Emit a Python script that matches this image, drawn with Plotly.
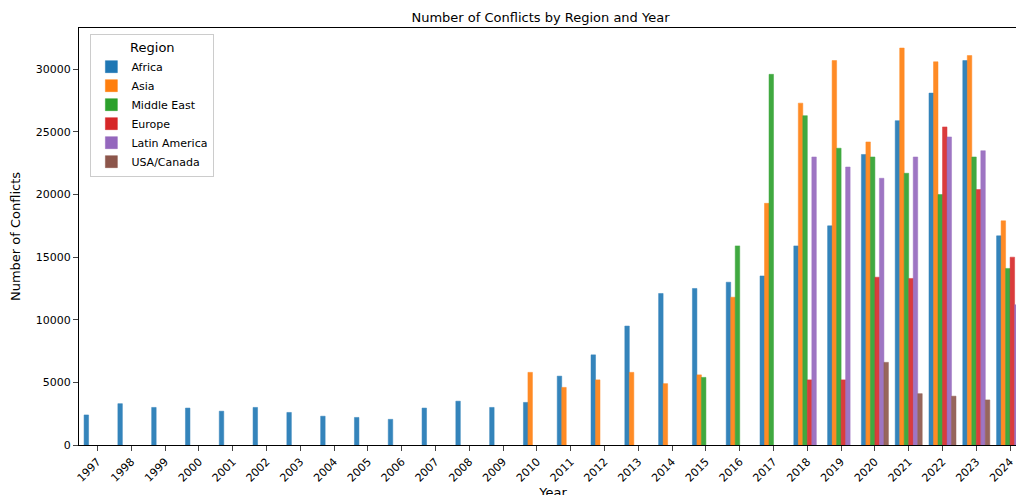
import plotly.graph_objects as go

years = [str(y) for y in range(1997, 2025)]
N = None

africa = [2400, 3300, 3000, 2950, 2700, 3000, 2600, 2300, 2200, 2050, 2950, 3500, 3000, 3400,
          5500, 7200, 9500, 12100, 12500, 13000, 13500, 15900, 17500, 23200, 25900, 28100, 30700, 16700]
asia = [N] * 13 + [5800, 4600, 5200, 5800, 4900, 5600, 11800, 19300, 27300, 30700, 24200, 31700, 30600, 31100, 17900]
middle_east = [N] * 18 + [5400, 15900, 29600, 26300, 23700, 23000, 21700, 20000, 23000, 14100]
europe = [N] * 21 + [5200, 5200, 13400, 13300, 25400, 20400, 15000]
latin_america = [N] * 21 + [23000, 22200, 21300, 23000, 24600, 23500, 11200]
usa_canada = [N] * 23 + [6600, 4100, 3900, 3600, 2000]

series = [
    ("Africa", africa, "#1f77b4"),
    ("Asia", asia, "#ff7f0e"),
    ("Middle East", middle_east, "#2ca02c"),
    ("Europe", europe, "#d62728"),
    ("Latin America", latin_america, "#9467bd"),
    ("USA/Canada", usa_canada, "#8c564b"),
]

fig = go.Figure()
for name, vals, color in series:
    fig.add_trace(go.Bar(
        x=years, y=vals, name=name,
        marker=dict(color=color, opacity=0.9, line=dict(color=color, width=0.5)),
    ))

fig.update_layout(
    barmode="group",
    bargap=0.2,
    bargroupgap=0,
    width=1024, height=495,
    margin=dict(l=62, r=4, t=20, b=58),
    plot_bgcolor="white",
    paper_bgcolor="white",
    font=dict(family="DejaVu Sans", size=11, color="black"),
    title=dict(text="Number of Conflicts by Region and Year", x=0.52, y=0.99,
               xanchor="center", yanchor="top", font=dict(size=13)),
    legend=dict(title=dict(text="Region", side="top center"), x=0.012, y=0.985, xanchor="left",
                yanchor="top", bordercolor="#cccccc", borderwidth=1, tracegroupgap=0,
                bgcolor="rgba(255,255,255,0.8)", font=dict(size=11)),
)
fig.update_xaxes(title=dict(text="Year", standoff=2), tickangle=-45, showline=True, linecolor="black",
                 ticks="outside", mirror=True, type="category", range=[-0.55, 27.5])
fig.update_yaxes(title=dict(text="Number of Conflicts"), range=[0, 33300], dtick=5000, tickformat="d",
                 showgrid=False, showline=True, linecolor="black", ticks="outside", mirror=True,
                 zeroline=False)

fig.write_html("out.html")
